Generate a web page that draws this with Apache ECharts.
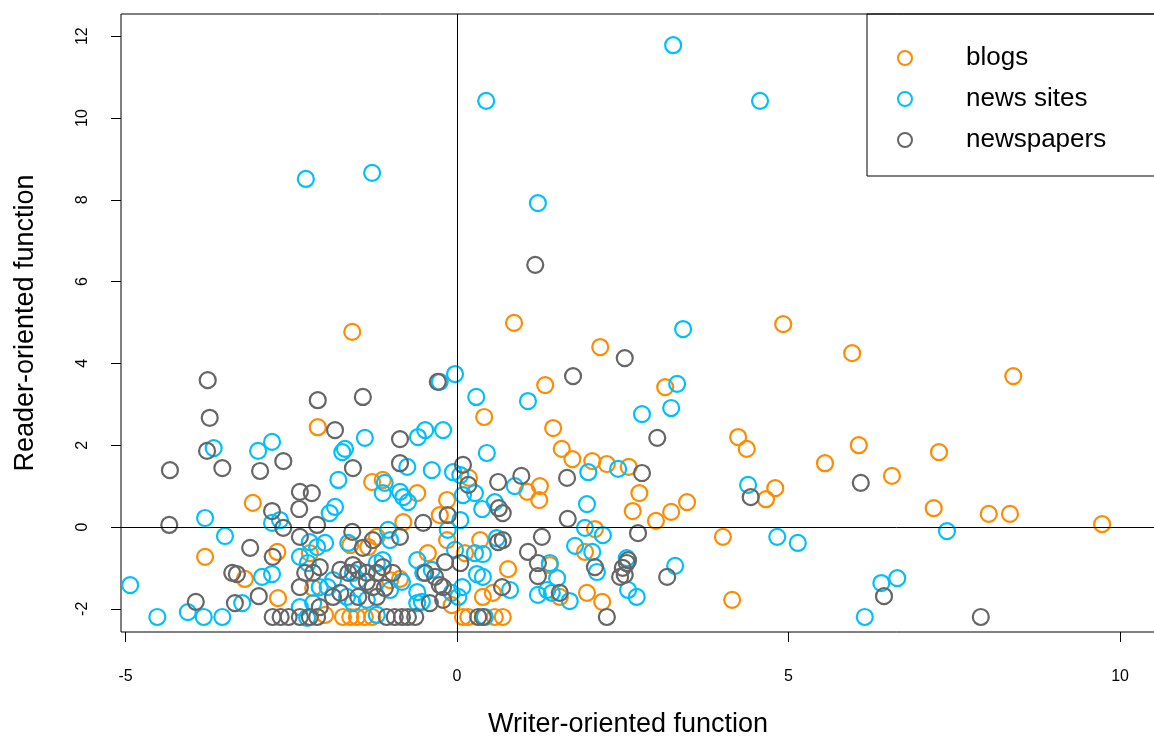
<!DOCTYPE html>
<html>
<head>
<meta charset="utf-8">
<script src="https://cdn.jsdelivr.net/npm/echarts@6/dist/echarts.min.js"></script>
<style>
html,body{margin:0;padding:0;background:#fff;}
#chart{width:1154px;height:738px;}
</style>
</head>
<body>
<div id="chart"></div>
<script>
var seriesNames = ['blogs', 'news sites', 'newspapers'];
var seriesColors = ['#FF8C00', '#00BFFF', '#666666'];
var xTicks = [-5, 0, 5, 10];
var yTicks = [-2, 0, 2, 4, 6, 8, 10, 12];
var xTitle = 'Writer-oriented function';
var yTitle = 'Reader-oriented function';

var blogs = [
[-1.58,4.77],[-2.10,2.44],[-3.08,0.59],[-3.80,-0.73],[-3.20,-1.27],[-2.70,-1.74],[-2.71,-0.61],[-1.28,1.10],[-1.12,1.15],[-0.60,0.83],[-0.15,0.66],[-0.26,0.29],[0.18,1.20],[-0.81,0.12],[-1.21,-0.24],[-1.61,-0.44],[-1.34,-0.49],[-2.22,-0.64],[-0.44,-0.64],[-0.15,-0.32],[0.12,-0.64],[-0.86,-1.27],[-1.01,-1.30],[-2.17,-1.49],[-0.08,-1.91],[-1.99,-2.15],[-1.72,-2.2],[-1.61,-2.2],[-1.51,-2.2],[-1.39,-2.2],[-1.28,-2.2],[0.09,-2.2],[0.17,-2.2],[0.57,-2.2],[0.69,-2.2],[0.86,4.99],[2.16,4.40],[1.33,3.47],[0.41,2.69],[1.45,2.42],[1.58,1.91],[1.74,1.66],[2.04,1.61],[2.26,1.54],[2.59,1.47],[1.06,0.86],[1.25,1.00],[1.24,0.66],[2.75,0.83],[2.65,0.39],[2.08,-0.05],[1.93,-0.61],[0.35,-0.32],[0.77,-1.03],[1.40,-0.93],[0.54,-1.61],[0.39,-1.71],[1.55,-1.71],[1.96,-1.61],[2.19,-1.83],[3.14,3.42],[4.92,4.96],[4.24,2.20],[4.37,1.91],[5.55,1.56],[4.80,0.95],[4.66,0.68],[3.47,0.61],[3.23,0.37],[3.00,0.15],[4.01,-0.24],[4.15,-1.78],[5.96,4.25],[8.39,3.69],[6.06,2.00],[7.27,1.83],[6.56,1.25],[7.19,0.46],[8.02,0.32],[8.34,0.32],[9.73,0.07]
];

var newsSites = [
[3.26,11.78],[0.44,10.42],[4.57,10.42],[-2.28,8.51],[-1.28,8.66],[1.22,7.92],[3.41,4.84],[3.32,3.50],[-0.03,3.74],[0.29,3.18],[1.07,3.08],[2.79,2.76],[3.23,2.91],[-0.26,3.55],[-3.67,1.93],[-3.00,1.86],[-2.79,2.08],[-1.39,2.18],[-1.73,1.83],[-1.69,1.91],[-1.79,1.15],[-0.59,2.20],[-0.48,2.37],[-0.21,2.37],[-0.75,1.47],[-0.38,1.39],[-0.06,1.34],[-1.09,1.08],[-1.12,0.83],[-0.86,0.86],[-0.81,0.73],[-0.74,0.61],[-1.84,0.49],[-1.92,0.34],[0.09,0.78],[0.45,1.81],[0.87,1.00],[1.98,1.34],[2.43,1.42],[1.96,0.56],[0.38,0.44],[0.27,0.83],[0.05,1.27],[0.05,0.17],[1.93,-0.02],[2.20,-0.20],[1.78,-0.46],[0.60,-0.27],[0.27,-0.64],[0.39,-0.66],[0.39,-1.22],[0.30,-1.15],[1.40,-0.88],[1.51,-1.25],[2.11,-1.10],[2.56,-0.76],[2.58,-1.54],[2.71,-1.71],[0.80,-1.54],[1.22,-1.66],[1.36,-1.54],[1.43,-1.61],[1.70,-1.81],[0.42,-2.2],[4.39,1.03],[4.83,-0.24],[5.14,-0.39],[3.29,-0.95],[7.39,-0.10],[6.64,-1.25],[6.40,-1.37],[6.15,-2.20],[-3.80,0.22],[-3.50,-0.22],[-2.79,0.10],[-2.94,-1.22],[-2.79,-1.15],[-4.93,-1.42],[-4.06,-2.08],[-4.52,-2.20],[-3.82,-2.20],[-3.54,-2.20],[-3.24,-1.86],[-2.67,0.17],[-1.64,-0.39],[-1.04,-0.07],[-2.22,-0.37],[-2.11,-0.49],[-1.99,-0.39],[-0.14,-0.07],[-0.03,-0.56],[-0.38,-1.05],[-0.60,-0.81],[-0.51,-1.12],[-0.83,-1.34],[-1.57,-1.12],[-1.49,-1.30],[-1.21,-0.88],[-1.12,-0.81],[-1.87,-1.30],[-1.95,-1.47],[-2.37,-0.73],[-2.25,-0.88],[-2.07,-1.47],[-1.66,-1.71],[-1.57,-1.86],[-1.36,-1.78],[-1.01,-1.54],[-0.60,-1.59],[-0.08,-1.61],[0.02,-1.71],[-0.60,-1.86],[-2.37,-1.96],[-2.17,-1.86],[-2.26,-2.22],[-1.21,-2.15],[-0.53,-1.83],[0.08,-1.47],[-1.01,-0.32],[0.57,0.61],[2.04,-0.61]
];

var newspapers = [
[1.18,6.41],[-2.10,3.10],[-1.42,3.18],[-0.29,3.55],[1.75,3.69],[2.53,4.13],[3.02,2.18],[-3.76,3.59],[-3.73,2.67],[-3.77,1.86],[-3.54,1.44],[-4.33,1.39],[-2.62,1.61],[-2.97,1.37],[-2.79,0.39],[-2.37,0.86],[-2.19,0.83],[-2.38,0.44],[-4.34,0.05],[-2.62,-0.02],[-3.12,-0.51],[-3.39,-1.12],[-3.32,-1.15],[-3.94,-1.83],[-3.35,-1.86],[-2.99,-1.69],[-2.78,-0.73],[-1.84,2.37],[-1.57,1.44],[-2.11,0.05],[-1.58,-0.12],[-0.86,2.15],[-0.86,1.56],[0.09,1.52],[0.17,1.03],[-0.14,0.29],[-0.51,0.10],[-0.86,-0.24],[-0.18,-0.86],[0.05,-0.88],[-0.48,-1.12],[-0.26,-1.42],[-0.21,-1.78],[-1.06,-2.2],[-0.94,-2.2],[-0.83,-2.2],[-0.74,-2.2],[-0.63,-2.2],[0.62,1.10],[0.97,1.25],[1.66,1.20],[2.79,1.32],[0.63,0.46],[0.69,0.34],[1.67,0.20],[2.73,-0.15],[1.28,-0.24],[1.07,-0.61],[0.69,-0.32],[0.62,-0.37],[1.22,-1.20],[1.22,-0.88],[2.08,-0.98],[2.50,-1.00],[2.56,-0.88],[2.58,-0.81],[2.53,-1.17],[2.46,-1.22],[0.68,-1.47],[1.55,-1.61],[2.26,-2.20],[0.32,-2.20],[0.39,-2.20],[3.17,-1.22],[4.43,0.73],[6.09,1.08],[6.44,-1.69],[7.90,-2.20],[-1.27,-0.32],[-1.42,-0.51],[-2.37,-0.24],[-0.33,-1.22],[-1.12,-0.98],[-0.97,-1.12],[-1.57,-0.93],[-1.49,-1.05],[-1.36,-1.12],[-1.21,-1.12],[-1.36,-1.34],[-1.27,-1.47],[-1.76,-1.05],[-1.64,-1.12],[-2.07,-0.98],[-2.17,-1.12],[-2.29,-1.12],[-2.37,-1.47],[-1.87,-1.71],[-1.76,-1.61],[-1.49,-1.71],[-1.21,-1.71],[-1.09,-1.49],[-0.21,-1.47],[-0.41,-1.86],[-2.07,-1.96],[-2.78,-2.2],[-2.66,-2.2],[-2.54,-2.2],[-2.37,-2.2],[-2.22,-2.2],[-2.11,-2.2]
];

var FONT = '"Liberation Sans", Arial, sans-serif';
var allData = [blogs, newsSites, newspapers];

var series = seriesNames.map(function (name, i) {
  return {
    name: name,
    type: 'scatter',
    data: allData[i],
    symbol: 'circle',
    symbolSize: 16,
    itemStyle: { color: 'rgba(0,0,0,0)', borderColor: seriesColors[i], borderWidth: 2.2, opacity: 1 },
    emphasis: { disabled: true },
    animation: false
  };
});
series.push({
  type: 'scatter',
  data: [],
  silent: true,
  markLine: {
    silent: true,
    symbol: 'none',
    animation: false,
    label: { show: false },
    lineStyle: { color: '#000', width: 1, type: 'solid' },
    emphasis: { disabled: true },
    data: [{ xAxis: 0 }, { yAxis: 0 }]
  }
});

var chart = echarts.init(document.getElementById('chart'), null, { renderer: 'canvas' });
chart.setOption({
  animation: false,
  backgroundColor: '#fff',
  grid: {
    show: true, left: 121, top: 14, width: 1040, height: 618,
    outerBoundsMode: 'none', containLabel: false,
    borderColor: '#000', borderWidth: 1, backgroundColor: 'rgba(0,0,0,0)'
  },
  legend: {
    orient: 'vertical',
    left: 867, top: 14,
    padding: [29, 90, 21, 30],
    itemGap: 11,
    itemWidth: 14, itemHeight: 14,
    borderColor: '#000', borderWidth: 1,
    selectedMode: false,
    textStyle: { fontSize: 26, fontFamily: FONT, color: '#000', padding: [0, 0, 0, 49], lineHeight: 30 },
    data: seriesNames.map(function (n, i) {
      return { name: n, icon: 'circle', itemStyle: { color: 'rgba(0,0,0,0)', borderColor: seriesColors[i], borderWidth: 2 } };
    })
  },
  xAxis: {
    type: 'value',
    min: -5.068, max: 10.618,
    name: xTitle,
    nameLocation: 'middle',
    nameGap: 79,
    nameTextStyle: { fontSize: 27, fontFamily: FONT, color: '#000', padding: [0, 26, 0, 0] },
    axisLine: { show: false, onZero: false },
    splitLine: { show: false },
    axisTick: { show: true, inside: false, length: 10, customValues: xTicks, lineStyle: { color: '#000', width: 1 } },
    axisLabel: { show: true, customValues: xTicks, fontSize: 16, fontFamily: FONT, color: '#000', margin: 37 }
  },
  yAxis: {
    type: 'value',
    min: -2.567, max: 12.543,
    name: yTitle,
    nameLocation: 'middle',
    nameRotate: 90,
    nameGap: 82,
    nameTextStyle: { fontSize: 27, fontFamily: FONT, color: '#000' },
    axisLine: { show: false, onZero: false },
    splitLine: { show: false },
    axisTick: { show: true, inside: false, length: 10, customValues: yTicks, lineStyle: { color: '#000', width: 1 } },
    axisLabel: { show: true, customValues: yTicks, rotate: 90, fontSize: 16, fontFamily: FONT, color: '#000', margin: 30 }
  },
  series: series
});
</script>
</body>
</html>
